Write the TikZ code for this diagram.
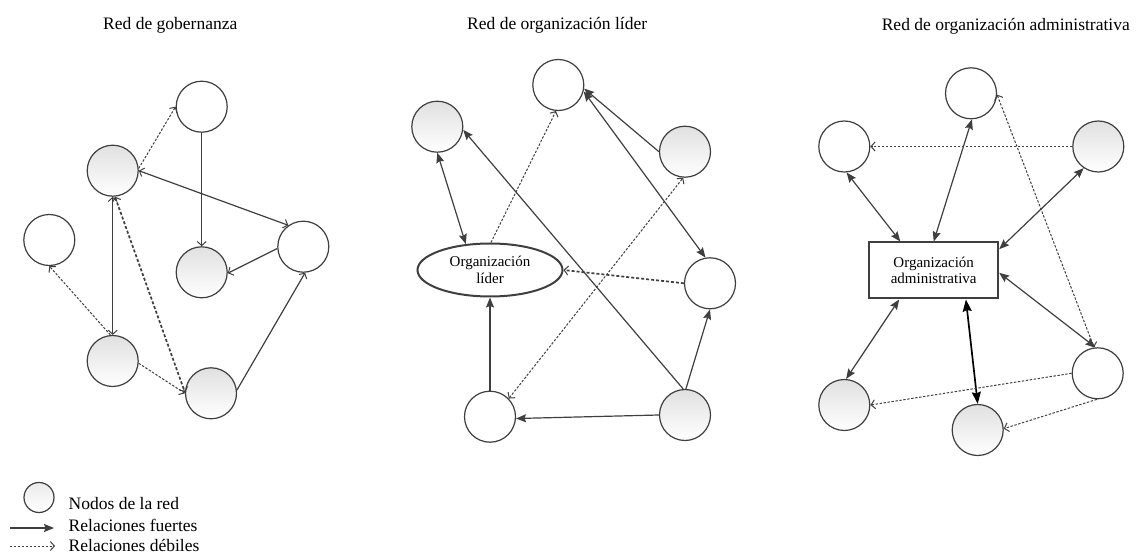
\documentclass[tikz,border=0pt]{standalone}
\usepackage{fontspec}
\setmainfont{Liberation Serif}
\usetikzlibrary{arrows.meta,shapes.geometric}
\definecolor{ln}{HTML}{3F3F3F}
\newcommand\ttlfont{\fontsize{17.5}{21}\selectfont}
\newcommand\lblfont{\fontsize{15}{16.7}\selectfont}

\begin{document}
\begin{tikzpicture}[x=1pt,y=-1pt,
  nd/.style={circle,draw=ln,line width=1.2pt,minimum size=51pt,inner sep=0pt},
  grey/.style={nd,top color=black!12,bottom color=white},
  plain/.style={nd,fill=white},
  strong/.style={draw=ln,line width=1.2pt},
  bold/.style={draw=black,line width=1.7pt},
  weak/.style={draw=ln,line width=1pt,dash pattern=on 2.4pt off 1.6pt},
  weakthick/.style={draw=ln,line width=1.7pt,dash pattern=on 3pt off 2pt},
  fh/.tip={Stealth[length=10pt,width=8pt,inset=1.5pt]},
  bh/.tip={Stealth[length=12pt,width=9pt,inset=1.5pt]},
  oh/.tip={Straight Barb[length=4pt,width=9pt,line width=1pt]},
  ttl/.style={font=\ttlfont,inner sep=0pt},
]
\useasboundingbox (0,0) rectangle (1136,556);

% ---- titles
\node[ttl,anchor=base west] (t1) at (103,30) {Red de gobernanza};
\node[ttl,anchor=base west] (t2) at (467,29.5) {Red de organización líder};
\node[ttl,anchor=base east] (t3) at (1130,30.5) {Red de organización administrativa};

% ---- governance network
\node[plain] (gA) at (201.7,106.7) {};
\node[grey]  (gB) at (112.7,170.7) {};
\node[plain] (gC) at (49.3,240) {};
\node[grey]  (gD) at (201.7,272.3) {};
\node[plain] (gE) at (303.3,246.7) {};
\node[grey]  (gF) at (112.7,361) {};
\node[grey]  (gG) at (211,393.3) {};

\draw[weak,-oh] (gB.5) -- (gA.180);
\draw[strong,-oh] (gA) -- (gD);
\draw[strong,oh-oh] (gB.0) -- (gE.125);
\draw[strong,-oh] (gE.184) -- (gD.-2);
\draw[strong,-oh] (gG.7) -- (gE.-86);
\draw[strong,oh-oh] (gB) -- (gF);
\draw[weak,-oh] (gF.95) -- (gC.-90);
\draw[weak,-oh] (gF.-5) -- (gG.180);
\draw[weakthick,oh-oh] (gB.-85) -- (gG.178);

% ---- lead organization network
\node[grey]  (m1) at (437.3,126.7) {};
\node[plain] (m2) at (558.3,85) {};
\node[grey]  (m3) at (685,151.7) {};
\node[ellipse,draw=ln,line width=2pt,minimum width=145pt,minimum height=53pt,
      inner sep=0pt,fill=white,align=center,font=\lblfont] (L) at (490,270)
      {Organización\\líder};
\node[plain] (m4) at (710,283.3) {};
\node[plain] (m5) at (490,416.7) {};
\node[grey]  (m6) at (685,415) {};

\draw[strong,fh-fh] (m1.-90) -- (L.133);
\draw[weak,-oh] (L.88) -- (m2.-95);
\draw[strong,-fh] (m3.180) -- (m2.-8);
\draw[strong,fh-fh] (m2.-14) -- (m4.100);
\draw[strong,-fh] (m6.94) -- (m1.-7);
\draw[weakthick,-oh] (m4.180) -- (L.east);
\draw[weak,oh-oh] (m5.44) -- (m3.-94);
\draw[strong,-fh] (m5) -- (L);
\draw[strong,-fh] (m6.180) -- (m5.-4);
\draw[strong,-fh] (m6.88) -- (m4.-90);

% ---- administrative organization network
\node[plain] (r1) at (971,93.3) {};
\node[plain] (r2) at (844.3,146.5) {};
\node[grey]  (r3) at (1098.3,146.5) {};
\node[rectangle,draw=ln,line width=2pt,minimum width=129pt,minimum height=56pt,
      inner sep=0pt,fill=white,align=center,font=\lblfont] (R) at (933.7,270.5)
      {Organización\\administrativa};
\node[plain] (r4) at (1097.7,373.3) {};
\node[grey]  (r5) at (844.3,405) {};
\node[grey]  (r6) at (977.7,430) {};

\draw[strong,fh-fh] (r1.-88) -- (R.north);
\draw[strong,fh-fh] (r2.-85) -- (R.139);
\draw[strong,fh-fh] (r3.-124) -- (R.18);
\draw[strong,fh-fh] (r4.95) -- (R.-2);
\draw[strong,fh-fh] (r5.86) -- (R.-140);
\draw[bold,bh-bh] (r6.north) -- (R.-42);
\draw[weak,-oh] (r3.180) -- (r2.0);
\draw[weak,oh-oh] (r1.-3) -- (r4.98);
\draw[weak,-oh] (r4.180) -- (r5.0);
\draw[weak,-oh] (r4.-92) -- (r6.3);

% ---- legend
\node[circle,draw=ln,line width=1.2pt,minimum size=30pt,inner sep=0pt,
      top color=black!8,bottom color=white] (kN) at (39,497.5) {};
\node[ttl,anchor=base west] (kNt) at (68.5,509.5) {Nodos de la red};
\coordinate (ks1) at (10,528);
\coordinate (ks2) at (54,528);
\draw[strong,-fh] (ks1) -- (ks2);
\node[ttl,anchor=base west] (kSt) at (68.5,531) {Relaciones fuertes};
\coordinate (kd1) at (10,546);
\coordinate (kd2) at (55,546);
\draw[weak,-oh] (kd1) -- (kd2);
\node[ttl,anchor=base west] (kDt) at (68.5,551) {Relaciones débiles};
\end{tikzpicture}
\end{document}
